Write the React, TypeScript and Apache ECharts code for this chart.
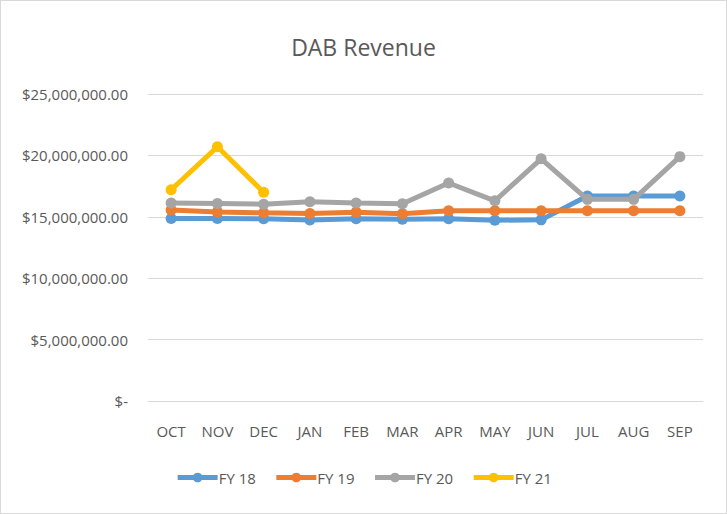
import React, { useEffect, useRef } from "react";
import * as echarts from "echarts";

const months = ["OCT", "NOV", "DEC", "JAN", "FEB", "MAR", "APR", "MAY", "JUN", "JUL", "AUG", "SEP"];
const fy18 = [14.86, 14.86, 14.84, 14.74, 14.84, 14.8, 14.85, 14.72, 14.75, 16.7, 16.7, 16.7];
const fy19 = [15.55, 15.4, 15.32, 15.27, 15.38, 15.25, 15.5, 15.5, 15.5, 15.5, 15.5, 15.5];
const fy20 = [16.13, 16.08, 16.03, 16.22, 16.12, 16.06, 17.75, 16.3, 19.72, 16.42, 16.42, 19.9];
const fy21 = [17.2, 20.7, 17.0, null, null, null, null, null, null, null, null, null];
const seriesNames = ["FY 18", "FY 19", "FY 20", "FY 21"];
const seriesColors = ["#5B9BD5", "#ED7D31", "#A5A5A5", "#FFC000"];

const FONT = "'Open Sans', 'Liberation Sans', sans-serif";

function fmt(v: number) {
  if (v === 0) return "$-";
  return "$" + v.toLocaleString("en-US", { minimumFractionDigits: 2, maximumFractionDigits: 2 });
}

export default function App() {
  const ref = useRef<HTMLDivElement>(null);
  useEffect(() => {
    if (!ref.current) return;
    const chart = echarts.init(ref.current, undefined, { renderer: "svg" });
    const data = [fy18, fy19, fy20, fy21];
    chart.setOption({
      animation: false,
      backgroundColor: "#ffffff",
      title: {
        text: "DAB Revenue",
        left: "center",
        top: 29,
        textStyle: { fontFamily: FONT, fontSize: 23, fontWeight: "normal", color: "#595959" },
      },
      legend: {
        bottom: 23,
        left: "center",
        itemWidth: 40,
        itemHeight: 12,
        itemGap: 18,
        lineStyle: { width: 5 },
        textStyle: { fontFamily: FONT, fontSize: 15, color: "#595959", padding: [0, 0, 0, -4] },
        data: seriesNames,
      },
      grid: { left: 147, right: 23, top: 93, bottom: 112, containLabel: false },
      xAxis: {
        type: "category",
        data: months,
        axisLine: { lineStyle: { color: "#D9D9D9" } },
        axisTick: { show: false },
        axisLabel: { fontFamily: FONT, fontSize: 15, color: "#595959", margin: 22 },
      },
      yAxis: {
        type: "value",
        min: 0,
        max: 25000000,
        interval: 5000000,
        axisLine: { show: false },
        axisTick: { show: false },
        splitLine: { lineStyle: { color: "#D9D9D9", width: 1 } },
        axisLabel: {
          fontFamily: FONT,
          fontSize: 15,
          color: "#595959",
          margin: 20,
          formatter: (v: number) => fmt(v),
        },
      },
      series: seriesNames.map((name, i) => ({
        name,
        type: "line",
        data: data[i].map((v) => (v == null ? null : v * 1000000)),
        symbol: "circle",
        symbolSize: 11,
        lineStyle: { width: 5, color: seriesColors[i] },
        itemStyle: { color: seriesColors[i] },
        z: 2 + i,
      })),
    });
    return () => chart.dispose();
  }, []);
  return (
    <div
      ref={ref}
      style={{
        position: "absolute",
        left: 0,
        top: 0,
        width: 725,
        height: 512,
        border: "1px solid #D9D9D9",
      }}
    />
  );
}
